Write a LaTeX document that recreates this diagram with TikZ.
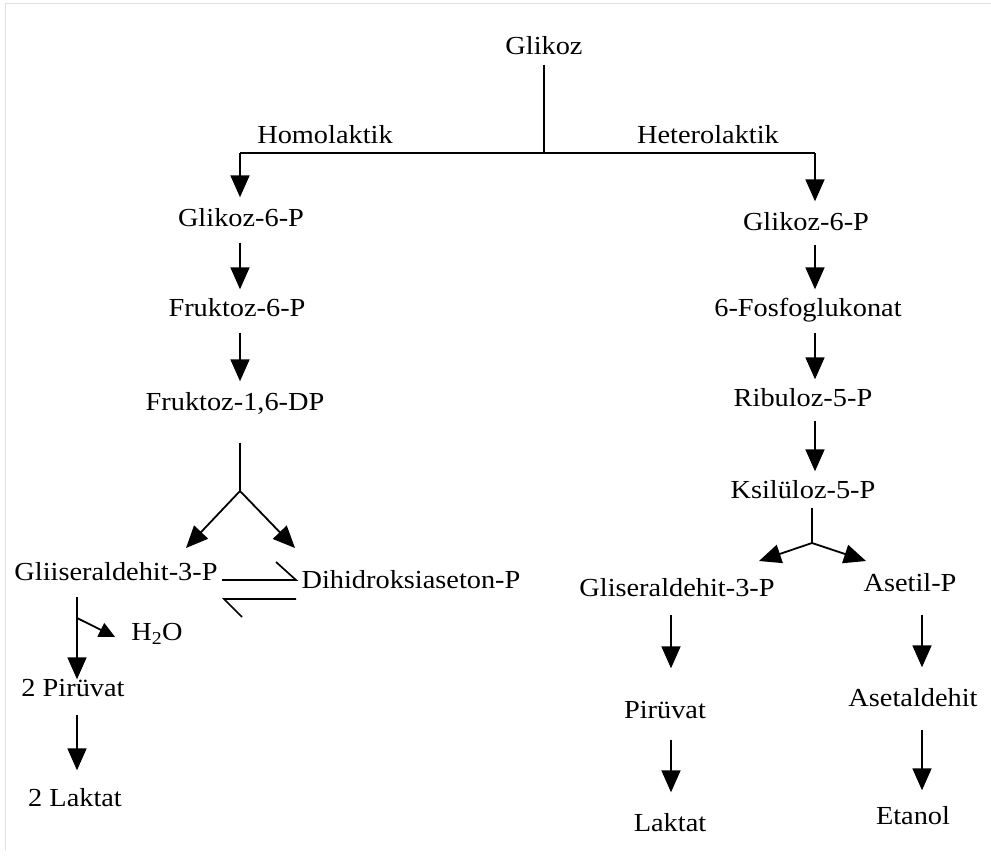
\documentclass[tikz,border=0pt]{standalone}
\usepackage{fontspec}
\setmainfont[FakeStretch=1.09]{Liberation Serif}
\usetikzlibrary{arrows.meta,calc}
\begin{document}
\begin{tikzpicture}[x=1pt,y=-1pt,
  lbl/.style={inner sep=0pt,text height=19pt,text depth=6pt,font=\fontsize{26}{30}\selectfont},
  ln/.style={line width=1.7pt},
  arr/.style={line width=1.8pt,-{Triangle[length=22pt,width=19pt]}},
  sarr/.style={line width=1.8pt,-{Triangle[length=16pt,width=15pt]}},
  frame/.style={gray!25,line width=1pt}]
\useasboundingbox (0,0) rectangle (991,862);
\draw[frame] (5,850) -- (5,3) -- (991,3);
% columns
\coordinate (colL) at (240,0);
\coordinate (colLL) at (77,0);
\coordinate (colR) at (815,0);
\coordinate (colR1) at (671,0);
\coordinate (colR2) at (922,0);
% nodes
\node[lbl] (glikoz) at (544,48) {Glikoz};
\node[lbl,anchor=south] (homo) at (325,150) {Homolaktik};
\node[lbl,anchor=south] (hetero) at (708,150) {Heterolaktik};
\node[lbl] (g6l) at (241,220) {Glikoz-6-P};
\node[lbl] (f6l) at (237,310) {Fruktoz-6-P};
\node[lbl] (f16) at (235,404) {Fruktoz-1,6-DP};
\node[lbl] (gl3l) at (116,574) {Gliiseraldehit-3-P};
\node[lbl] (dhap) at (411,582) {Dihidroksiaseton-P};
\node[lbl] (h2o) at (157,634) {H\textsubscript{2}O};
\node[lbl] (pir2) at (73,690) {2 Pirüvat};
\node[lbl] (lak2) at (75,800) {2 Laktat};
\node[lbl] (g6r) at (806,224) {Glikoz-6-P};
\node[lbl] (fos) at (808,310) {6-Fosfoglukonat};
\node[lbl] (rib) at (803,400) {Ribuloz-5-P};
\node[lbl] (ksi) at (803,492) {Ksilüloz-5-P};
\node[lbl] (gl3r) at (677,590) {Gliseraldehit-3-P};
\node[lbl] (aset) at (910,585) {Asetil-P};
\node[lbl] (pir) at (665,712) {Pirüvat};
\node[lbl] (lak) at (670,825) {Laktat};
\node[lbl] (asald) at (913,700) {Asetaldehit};
\node[lbl] (etan) at (913,818) {Etanol};
% coordinates
\coordinate (jtop) at (544,153);
\coordinate (jL) at (240,153);
\coordinate (jR) at (815,153);
\coordinate (apexL) at (240,491);
\coordinate (tipGL) at (186,548);
\coordinate (tipDH) at (295,548);
\coordinate (apexR) at (812,543);
\coordinate (tipG3) at (759,561);
\coordinate (tipAS) at (866,561);
\coordinate (brH) at (77,618);
\coordinate (h1) at (222,580);
\coordinate (h2) at (296,580);
\coordinate (h3) at (276,562);
\coordinate (h4) at (296,599);
\coordinate (h5) at (224,599);
\coordinate (h6) at (242,617);
% top tree
\draw[ln] ($(glikoz.south)+(0,4)$) -- (jtop);
\draw[ln] (jL) -- (jR);
\draw[arr] (jL) -- ($(g6l.north -| colL)+(0,-10)$);
\draw[arr] (jR) -- ($(g6r.north -| colR)+(0,-10)$);
% left column
\draw[arr,shorten <=10pt,shorten >=8pt] (g6l.south -| colL) -- (f6l.north -| colL);
\draw[arr,shorten <=10pt,shorten >=10pt] (f6l.south -| colL) -- (f16.north -| colL);
\draw[ln] ($(f16.south -| colL)+(0,26)$) -- (apexL);
\draw[arr] (apexL) -- (tipGL);
\draw[arr] (apexL) -- (tipDH);
% equilibrium harpoons
\draw[ln,line join=miter] (h1) -- (h2) -- (h3);
\draw[ln,line join=miter] (h4) -- (h5) -- (h6);
% H2O branch and left bottom
\draw[arr] ($(gl3l.south -| colLL)+(0,10)$) -- ($(pir2.north -| colLL)+(0,2)$);
\draw[sarr] (brH) -- ($(h2o.west)+(-16,3)$);
\draw[arr,shorten <=12pt,shorten >=17pt] (pir2.south -| colLL) -- (lak2.north -| colLL);
% right column
\draw[arr,shorten <=8pt,shorten >=8pt] (g6r.south -| colR) -- (fos.north -| colR);
\draw[arr,shorten <=10pt,shorten >=8pt] (fos.south -| colR) -- (rib.north -| colR);
\draw[arr,shorten <=8pt,shorten >=8pt] (rib.south -| colR) -- (ksi.north -| colR);
\draw[ln] ($(ksi.south -| apexR)+(0,3)$) -- (apexR);
\draw[arr] (apexR) -- (tipG3);
\draw[arr] (apexR) -- (tipAS);
\draw[arr,shorten <=12pt,shorten >=31pt] (gl3r.south -| colR1) -- (pir.north -| colR1);
\draw[arr,shorten <=17pt,shorten >=20pt] (aset.south -| colR2) -- (asald.north -| colR2);
\draw[arr,shorten <=15pt,shorten >=20pt] (pir.south -| colR1) -- (lak.north -| colR1);
\draw[arr,shorten <=17pt,shorten >=15pt] (asald.south -| colR2) -- (etan.north -| colR2);
\end{tikzpicture}
\end{document}
